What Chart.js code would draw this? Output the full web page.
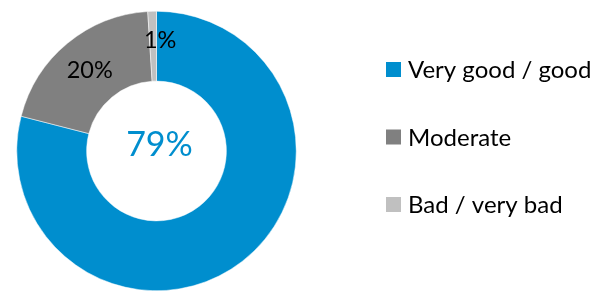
<!DOCTYPE html>
<html>
<head>
<meta charset="utf-8">
<script src="https://cdn.jsdelivr.net/npm/chart.js@4"></script>
<style>
  html, body { margin: 0; padding: 0; background: #fff; overflow: hidden; }
  #wrap { width: 611px; height: 291px; position: relative; }
</style>
</head>
<body>
<div id="wrap"><canvas id="chartRating"></canvas></div>
<script>
const categories = ['Very good / good', 'Moderate', 'Bad / very bad'];
const shares = [79, 20, 1];
const sliceColors = ['#008ECE', '#808080', '#C0C0C0'];

const fontFamily = "Lato, 'Open Sans', sans-serif";

// percentage labels on the ring, the big one goes in the hole
const sliceLabels = {
  id: 'sliceLabels',
  afterDatasetsDraw(chart) {
    const ctx = chart.ctx;
    const meta = chart.getDatasetMeta(0);
    ctx.save();
    ctx.textAlign = 'center';
    ctx.textBaseline = 'middle';
    meta.data.forEach((arc, i) => {
      const txt = shares[i] + '%';
      if (i === 0) {
        ctx.fillStyle = sliceColors[0];
        ctx.font = '34px ' + fontFamily;
        ctx.fillText(txt, arc.x + 3, arc.y - 6);
        return;
      }
      const pos = arc.tooltipPosition();
      let dx = 0, dy = 0;
      if (shares[i] < 5) { dx = 7; dy = -6; }
      ctx.fillStyle = '#000';
      ctx.font = '23.5px ' + fontFamily;
      ctx.fillText(txt, pos.x + dx, pos.y + dy);
    });
    ctx.restore();
  }
};

// legend drawn by hand so it sits where the original has it
const sideLegend = {
  id: 'sideLegend',
  afterDraw(chart) {
    const ctx = chart.ctx;
    ctx.save();
    ctx.font = '24px ' + fontFamily;
    ctx.textBaseline = 'middle';
    ctx.textAlign = 'left';
    categories.forEach((name, i) => {
      const y = 69.5 + i * 67.5;
      ctx.fillStyle = sliceColors[i];
      ctx.fillRect(386, y - 7.5, 15, 15);
      ctx.fillStyle = '#000';
      ctx.fillText(name, 408, y + 1);
    });
    ctx.restore();
  }
};

new Chart(document.getElementById('chartRating'), {
  type: 'doughnut',
  data: {
    labels: categories,
    datasets: [{
      data: shares,
      backgroundColor: sliceColors,
      borderColor: '#ffffff',
      borderWidth: 0.5
    }]
  },
  options: {
    responsive: true,
    maintainAspectRatio: false,
    animation: false,
    cutout: '50%',
    layout: { padding: { left: 15, right: 313, top: 11, bottom: -3 } },
    plugins: { legend: { display: false }, tooltip: { enabled: false } }
  },
  plugins: [sliceLabels, sideLegend]
});
</script>
</body>
</html>
